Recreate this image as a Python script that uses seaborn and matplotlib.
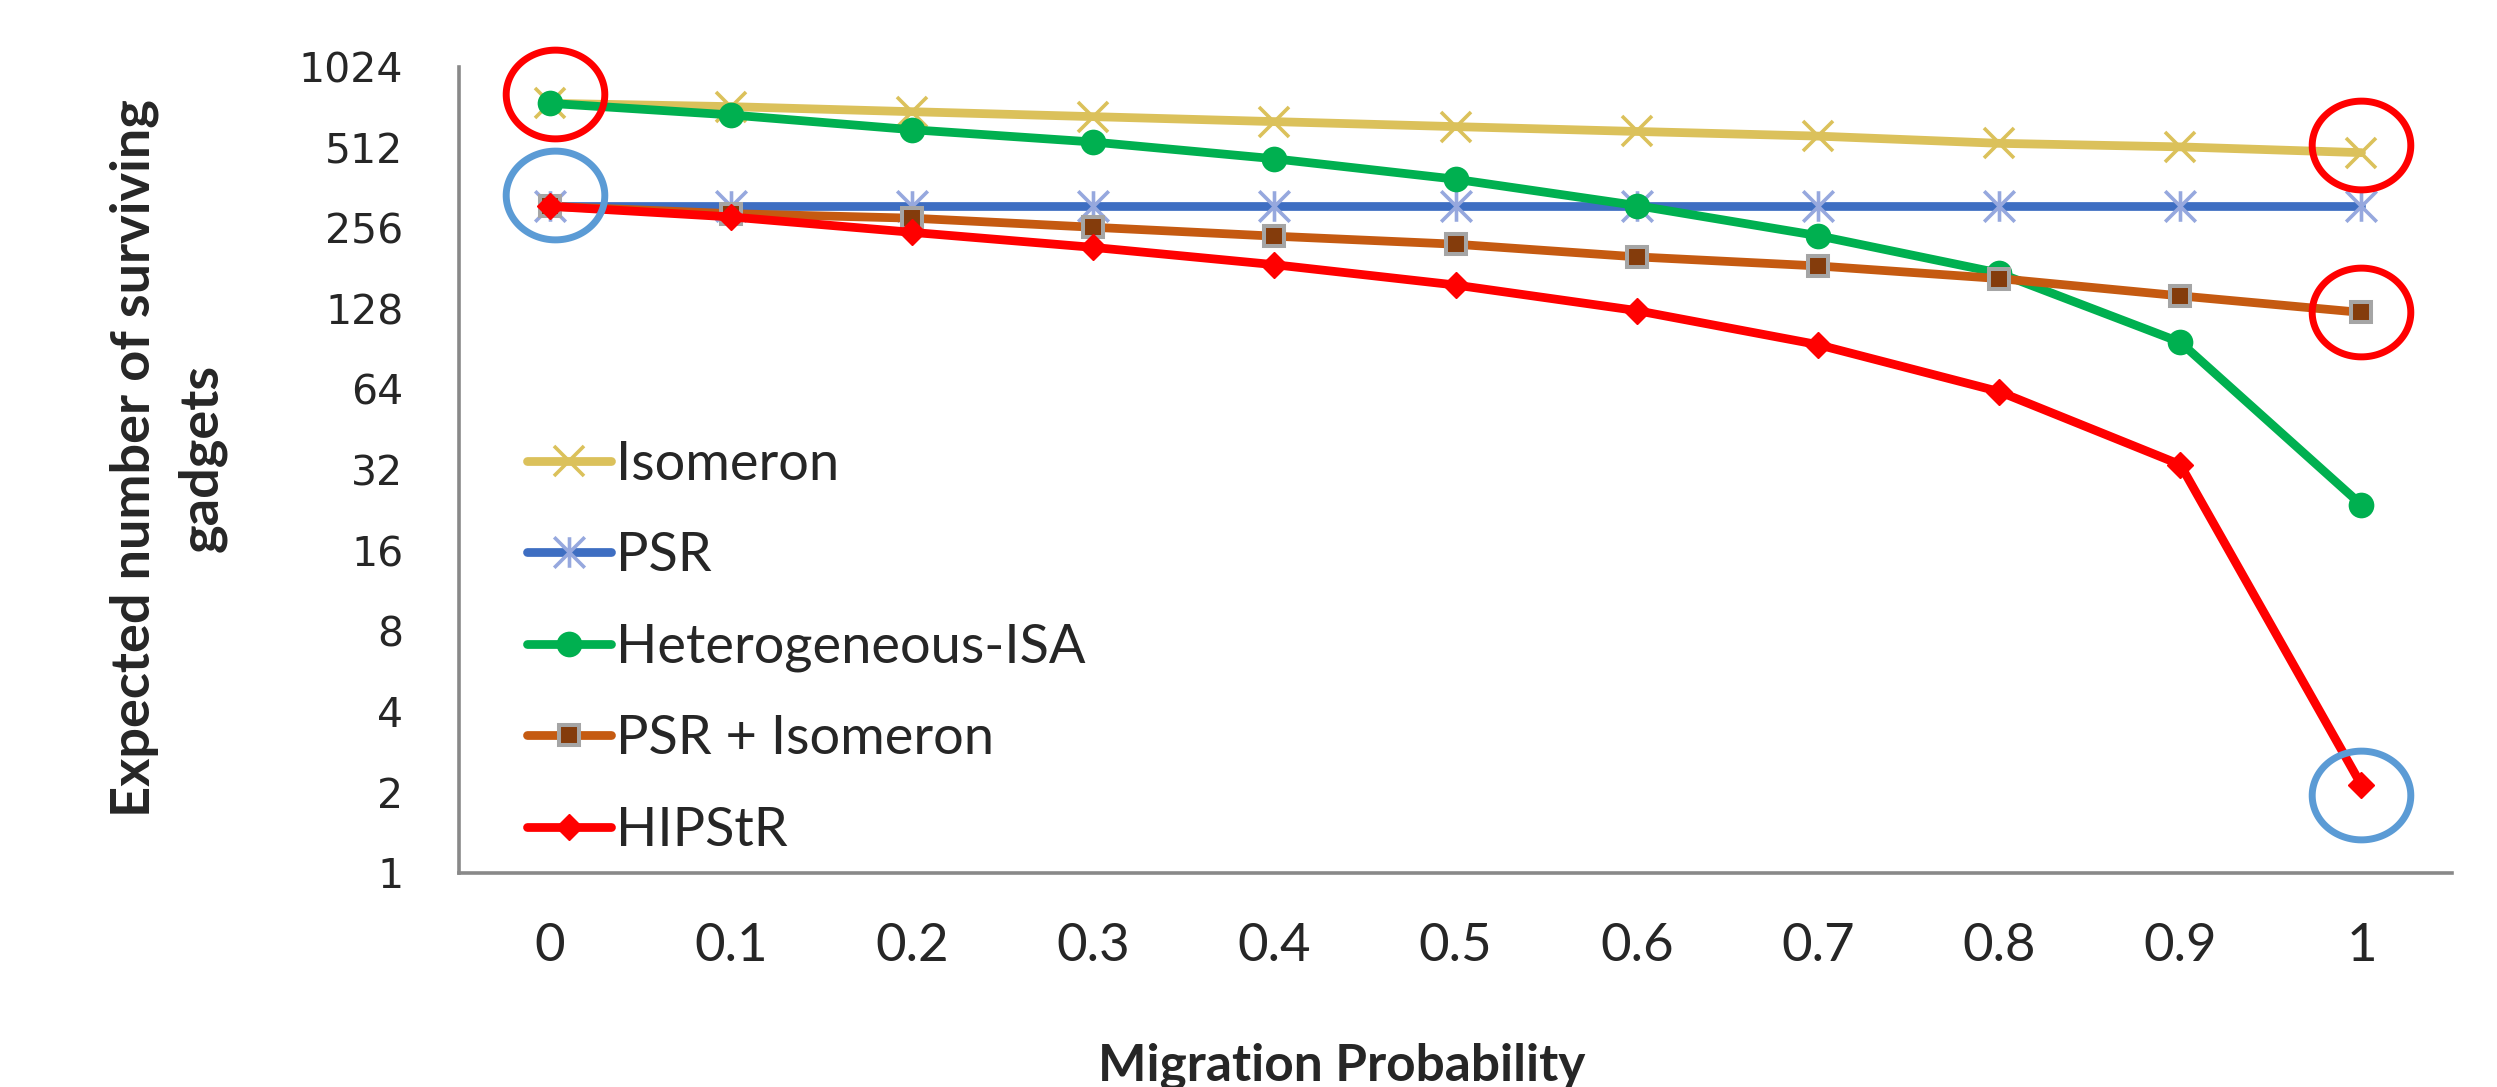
import matplotlib
matplotlib.use("Agg")
import matplotlib.pyplot as plt
import numpy as np
import seaborn as sns
from matplotlib.path import Path
from matplotlib.ticker import NullLocator

# data
probs = [0.0, 0.1, 0.2, 0.3, 0.4, 0.5, 0.6, 0.7, 0.8, 0.9, 1.0]
prob_labels = ["0", "0.1", "0.2", "0.3", "0.4", "0.5", "0.6", "0.7", "0.8", "0.9", "1"]
isomeron = [749, 728, 697, 668, 640, 613, 588, 565, 531, 515, 490]
psr = [309, 309, 309, 309, 309, 309, 309, 309, 309, 309, 309]
het_isa = [749, 678, 597, 537, 465, 390, 311, 240, 174, 96, 23.7]
psr_isomeron = [309, 290, 279, 258, 239, 223, 200, 185, 166, 143, 124]
hipstr = [309, 282, 247, 217, 187, 157, 126, 94, 62.8, 33.5, 2.13]
yticks = [1, 2, 4, 8, 16, 32, 64, 128, 256, 512, 1024]

# highlighted points (circled in the figure)
circle_x = [0.003, 0.003, 1.0, 1.0, 1.0]
circle_y = [812, 340, 524, 125, 1.95]
circle_colors = ["#FF0000", "#5B9BD5", "#FF0000", "#FF0000", "#5B9BD5"]

sns.set_style("white")
plt.rcParams["font.family"] = ["Lato", "DejaVu Sans"]

gray = "#898989"

# excel style markers
star = Path([(-1, -1), (1, 1), (-1, 1), (1, -1), (0, -1), (0, 1)],
            [Path.MOVETO, Path.LINETO, Path.MOVETO, Path.LINETO, Path.MOVETO, Path.LINETO])
t = np.linspace(0, 2 * np.pi, 120)
ring = Path(np.column_stack([np.cos(t), 0.9 * np.sin(t)]), closed=True)

fig = plt.figure(figsize=(24.97, 10.87), dpi=100)
ax = fig.add_axes([0.1838, 0.1969, 0.982 - 0.1838, 0.9384 - 0.1969])

series = [
    ("Isomeron", isomeron, dict(color="#DBC15B", marker="x", markersize=22,
                                markeredgewidth=2.6, markeredgecolor="#DBC15B")),
    ("PSR", psr, dict(color="#3E6EC2", marker=star, markersize=22,
                      markeredgewidth=2.6, markeredgecolor="#96A8DE")),
    ("Heterogeneous-ISA", het_isa, dict(color="#00B050", marker="o", markersize=18.5,
                                        markeredgewidth=0, markerfacecolor="#00B050",
                                        markeredgecolor="#00B050")),
    ("PSR + Isomeron", psr_isomeron, dict(color="#C55A11", marker="s", markersize=15,
                                          markeredgewidth=2.9, markerfacecolor="#843C0C",
                                          markeredgecolor="#A5A5A5")),
    ("HIPStR", hipstr, dict(color="#FF0000", marker="D", markersize=13.5,
                            markeredgewidth=1, markerfacecolor="#FF0000",
                            markeredgecolor="#FF0000")),
]

handles = []
for name, vals, style in series:
    sns.lineplot(x=probs, y=vals, ax=ax, linewidth=6.3, label=name, legend=False,
                 errorbar=None, solid_capstyle="round", solid_joinstyle="round", **style)
    handles.append(ax.lines[-1])

for cx, cy, cc in zip(circle_x, circle_y, circle_colors):
    ax.plot(cx, cy, marker=ring, markersize=71, markerfacecolor="none",
            markeredgecolor=cc, markeredgewidth=5, linestyle="none", clip_on=False, zorder=6)

ax.set_yscale("log", base=2)
ax.set_ylim(1, 1024)
ax.set_yticks(yticks)
ax.set_yticklabels([str(v) for v in yticks], fontfamily="DejaVu Sans", fontsize=29.5)
ax.yaxis.set_minor_locator(NullLocator())

ax.set_xlim(-0.05, 1.05)
ax.set_xticks(probs)
ax.set_xticklabels(prob_labels, fontsize=38)
ax.set_xticks(np.arange(-0.05, 1.06, 0.1), minor=True)

ax.tick_params(axis="x", which="major", length=0, pad=36)
ax.tick_params(axis="x", which="minor", length=12, width=1.6, color=gray, direction="out")
ax.tick_params(axis="y", which="major", length=14, width=1.6, color=gray, direction="out", pad=26)

for side in ["top", "right"]:
    ax.spines[side].set_visible(False)
for side in ["left", "bottom"]:
    ax.spines[side].set_color(gray)
    ax.spines[side].set_linewidth(2.6)
ax.set_xlabel("")
ax.set_ylabel("")

ax.legend(handles, [s[0] for s in series], loc="upper left", bbox_to_anchor=(0.034, 0.537),
          frameon=False, fontsize=39, handlelength=1.56, handletextpad=0.08,
          labelspacing=0.78, borderpad=0, borderaxespad=0)

fig.text(0.5374, 0.0064, "Migration Probability", ha="center", va="baseline",
         fontsize=37, fontweight="bold")
fig.text(0.0673, 0.5787, "Expected number of surviving\ngadgets", rotation=90,
         ha="center", va="center", multialignment="center", fontsize=39, fontweight="bold",
         linespacing=1.45)

fig.savefig("out.png", dpi=100)
